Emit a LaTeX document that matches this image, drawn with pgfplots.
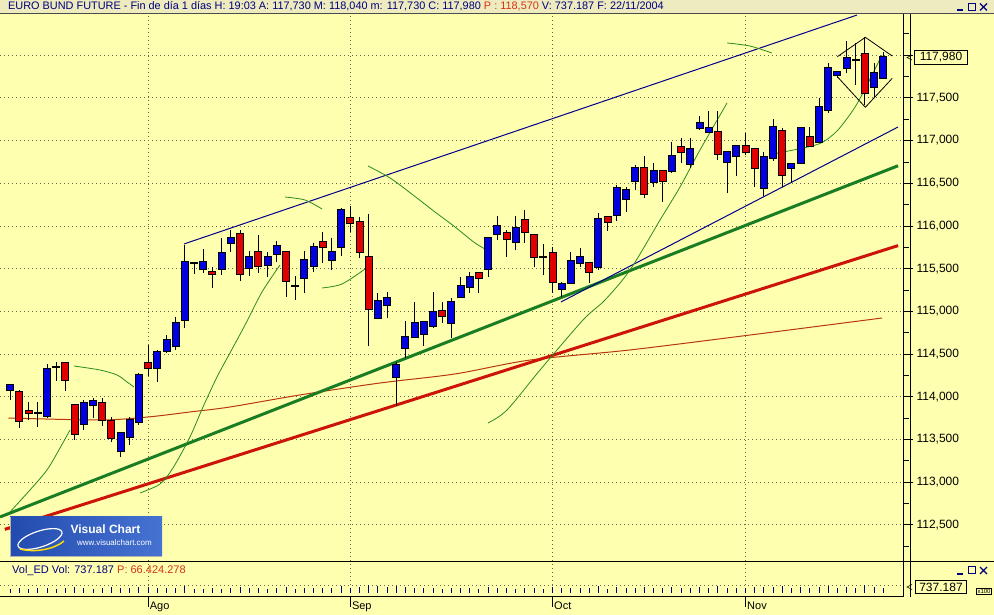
\documentclass[border=0pt]{standalone}
\usepackage{fontspec}
\setmainfont{Liberation Sans}
\usepackage{pgfplots}
\pgfplotsset{compat=1.18}
\usepackage{pgfplotstable}
\usetikzlibrary{backgrounds}
\definecolor{bg}{RGB}{255,255,176}
\definecolor{tbar}{RGB}{238,236,190}
\definecolor{navyT}{RGB}{0,0,128}
\definecolor{pred}{RGB}{215,50,20}
\definecolor{cblue}{RGB}{0,0,225}
\definecolor{cred}{RGB}{225,0,0}
\definecolor{tgreen}{RGB}{25,125,35}
\definecolor{tred}{RGB}{205,20,10}
\definecolor{mabrown}{RGB}{185,55,15}
\definecolor{magreen}{RGB}{40,140,30}
\definecolor{chan}{RGB}{0,0,140}
\definecolor{gridc}{RGB}{100,100,80}

\pgfplotstableread{
i o h l c
0 114.079 114.138 113.962 114.138
3 113.810 113.939 113.646 113.810
4 113.775 114.384 113.751 114.325
5 114.348 114.407 114.185 114.348
8 113.681 113.962 113.611 113.927
9 113.903 113.985 113.751 113.950
12 113.365 113.576 113.295 113.576
13 113.529 113.763 113.435 113.728
14 113.704 114.278 113.669 114.255
16 114.337 114.548 114.173 114.524
17 114.536 114.723 114.512 114.665
18 114.594 114.934 114.548 114.864
19 114.899 115.777 114.805 115.578
20 115.566 115.566 115.438 115.566
21 115.496 115.730 115.449 115.578
23 115.496 115.859 115.426 115.683
24 115.801 115.953 115.695 115.859
26 115.508 115.707 115.414 115.637
28 115.543 115.695 115.402 115.637
29 115.672 115.824 115.578 115.765
31 115.297 115.414 115.133 115.297
32 115.391 115.707 115.215 115.601
33 115.531 115.801 115.461 115.754
35 115.601 115.859 115.484 115.695
36 115.754 116.210 115.648 116.187
40 114.922 115.215 114.911 115.121
41 115.074 115.227 114.922 115.156
42 114.231 114.407 113.892 114.372
43 114.571 114.887 114.454 114.700
44 114.700 115.110 114.688 114.864
45 114.735 114.875 114.594 114.875
46 114.829 115.227 114.805 114.993
48 114.864 115.156 114.688 115.110
49 115.168 115.402 115.156 115.297
50 115.285 115.461 115.215 115.402
52 115.496 115.859 115.402 115.859
53 115.906 116.117 115.836 116.000
55 115.812 116.117 115.719 115.976
58 115.637 115.789 115.426 115.637
60 115.262 115.344 115.168 115.320
61 115.332 115.695 115.320 115.590
62 115.566 115.742 115.519 115.637
64 115.519 116.152 115.484 116.082
66 116.128 116.480 116.058 116.445
67 116.316 116.456 116.164 116.421
68 116.527 116.714 116.421 116.679
70 116.515 116.737 116.456 116.644
72 116.644 116.983 116.620 116.819
74 116.726 117.030 116.679 116.901
75 117.147 117.288 117.124 117.206
76 117.100 117.346 117.100 117.147
78 116.749 116.866 116.386 116.866
79 116.819 116.936 116.585 116.936
82 116.445 116.866 116.351 116.808
83 116.796 117.253 116.761 117.159
85 116.679 116.726 116.503 116.726
86 116.737 117.147 116.737 117.147
88 116.983 117.498 116.983 117.393
89 117.358 117.908 117.323 117.850
90 117.768 117.803 117.733 117.803
91 117.850 118.166 117.791 117.967
92 117.944 118.142 117.651 117.944
94 117.627 117.908 117.510 117.791
95 117.730 118.040 117.730 117.980
}\upT

\pgfplotstableread{
i o h l c
1 114.056 114.079 113.634 113.716
2 113.833 113.939 113.728 113.810
6 114.395 114.407 114.067 114.196
7 113.903 113.903 113.494 113.564
10 113.927 113.985 113.658 113.728
11 113.716 113.763 113.470 113.517
15 114.395 114.606 114.243 114.337
22 115.461 115.519 115.274 115.438
25 115.906 115.953 115.356 115.438
27 115.695 115.894 115.449 115.531
30 115.695 115.707 115.168 115.356
34 115.812 115.929 115.566 115.754
37 116.093 116.234 115.929 116.035
38 116.046 116.105 115.625 115.695
39 115.637 116.140 114.594 115.028
47 115.004 115.110 114.864 114.946
51 115.449 115.461 115.215 115.391
54 115.918 115.953 115.637 115.847
56 116.070 116.187 115.801 115.929
57 115.894 115.894 115.519 115.637
59 115.683 115.754 115.215 115.344
63 115.566 115.566 115.332 115.461
65 116.105 116.105 115.941 116.046
69 116.679 116.819 116.327 116.374
71 116.644 116.644 116.281 116.527
73 116.925 117.030 116.737 116.866
77 117.100 117.346 116.772 116.843
80 116.936 117.089 116.831 116.866
81 116.901 116.901 116.456 116.679
84 117.112 117.147 116.456 116.597
87 117.042 117.159 116.936 116.936
93 118.014 118.213 117.416 117.557
}\dnT

% daily volume, thousands of contracts
\pgfplotstableread{
i v
0 650
1 720
2 580
3 690
4 810
5 620
6 760
7 900
8 700
9 640
10 720
11 830
12 760
13 680
14 950
15 870
16 780
17 690
18 730
19 1050
20 560
21 620
22 700
23 650
24 720
25 910
26 680
27 760
28 640
29 700
30 880
31 600
32 750
33 690
34 720
35 800
36 980
37 760
38 830
39 1150
40 1020
41 940
42 1100
43 890
44 760
45 700
46 820
47 640
48 780
49 720
50 690
51 620
52 880
53 760
54 700
55 660
56 740
57 810
58 580
59 900
60 720
61 760
62 680
63 700
64 990
65 620
66 860
67 740
68 800
69 950
70 760
71 820
72 880
73 700
74 780
75 900
76 740
77 1000
78 820
79 760
80 700
81 880
82 910
83 840
84 1080
85 720
86 950
87 780
88 870
89 1120
90 690
91 940
92 800
93 1150
94 860
95 737
}\volT

\pgfplotsset{
  wickstyle/.style={draw=none, no markers, forget plot,
    error bars/.cd, y dir=plus, y explicit, error mark=none,
    error bar style={draw=black, line width=1pt}},
  outstyle/.style={draw=none, no markers, forget plot,
    error bars/.cd, y dir=plus, y explicit, error mark=none,
    error bar style={draw=black, line width=8pt}},
  fillstyle/.style={draw=none, no markers, forget plot,
    error bars/.cd, y dir=plus, y explicit, error mark=none,
    error bar style={draw=#1, line width=6pt}},
}

\begin{document}
\begin{tikzpicture}[x=1pt,y=1pt]

\begin{axis}[
  name=main, at={(0,18)}, anchor=south west,
  scale only axis, width=903pt, height=584pt,
  xmin=-1.121, xmax=97.138, ymin=111.655, ymax=118.494,
  axis line style={draw=none},
  xtick={15,37,59,80}, xticklabels={Ago,Sep,Oct,Nov},
  xtick pos=bottom,
  x tick style={black, line width=0.8pt},
  xticklabel style={font=\fontsize{11}{13}\selectfont, black, anchor=north west, inner sep=0pt, xshift=1.5pt, yshift=5pt},
  ytick={112.5,113,113.5,114,114.5,115,115.5,116,116.5,117,117.5,118,118.5},
  yticklabels={{112,500},{113,000},{113,500},{114,000},{114,500},{115,000},{115,500},{116,000},{116,500},{117,000},{117,500},{},{118,500}},
  minor ytick={112.25,112.75,113.25,113.75,114.25,114.75,115.25,115.75,116.25,116.75,117.25,117.75,118.25},
  ytick pos=right, yticklabel pos=right,
  tick align=outside, major tick length=10pt, minor tick length=6pt,
  y tick style={black, line width=0.8pt},
  xmajorgrids, ymajorgrids,
  grid style={gridc, dash pattern=on 1pt off 3pt, line width=0.8pt},
  yticklabel style={font=\fontsize{12}{14}\selectfont, black},
  clip=true,
]
\coordinate (BL) at (rel axis cs:0,0);
% volume panel
\addplot[gridc, dash pattern=on 1pt off 3pt, line width=0.8pt, forget plot] coordinates {(-1.121,111.796) (97.138,111.796)};
\addplot[draw=none, no markers, forget plot, error bars/.cd, y dir=plus, y explicit, error mark=none,
  error bar style={draw=navyT, line width=1pt}]
  table[x=i, y expr=111.702, y error plus expr=\thisrow{v}*0.00007807] {\volT};
% moving averages and trend lines (under candles)
\addplot[mabrown, line width=1pt, smooth] coordinates {(-0.2,113.751) (9.76,113.728) (14.98,113.763) (19.55,113.822) (23.9,113.880) (31.52,114.021) (40.23,114.161) (48.39,114.267) (56.55,114.430) (67.43,114.548) (80.49,114.723) (94.85,114.922)};
\addplot[tred, line width=3pt] coordinates {(-0.6,112.447) (96.6,115.770)};
\addplot[tgreen, line width=3pt] coordinates {(-1.12,112.592) (96.6,116.705)};
\addplot[chan, line width=1pt] coordinates {(18.90,115.789) (92.13,118.470)};
\addplot[chan, line width=1pt] coordinates {(59.92,115.110) (96.6,117.159)};
% short green average, drawn in pieces
\addplot[magreen, line width=0.8pt, smooth] coordinates {(-0.03,112.651) (2.14,112.908) (3.99,113.142) (5.41,113.400) (6.50,113.611)};
\addplot[magreen, line width=0.8pt, smooth] coordinates {(6.93,114.360) (9.76,114.313) (11.61,114.255) (12.70,114.173) (13.46,114.114)};
\addplot[magreen, line width=0.8pt, smooth] coordinates {(14.11,112.873) (16.29,112.978) (17.70,113.166) (19.55,113.529) (20.97,113.880) (22.49,114.231) (23.90,114.512) (25.54,114.840) (27.39,115.227) (29.35,115.543)};
\addplot[magreen, line width=0.8pt, smooth] coordinates {(29.89,116.339) (32.06,116.304) (33.92,116.199)};
\addplot[magreen, line width=0.8pt, smooth] coordinates {(33.92,115.274) (36.09,115.320) (38.60,115.496)};
\addplot[magreen, line width=0.8pt, smooth] coordinates {(38.92,116.702) (41.32,116.562) (43.82,116.363) (46.21,116.164) (48.39,115.988) (50.56,115.801) (51.87,115.719)};
\addplot[magreen, line width=0.8pt, smooth] coordinates {(51.98,113.693) (54.05,113.845) (57.64,114.313) (62.32,114.899) (64.71,115.133) (67.43,115.484) (70.70,116.070) (72.87,116.456) (75.05,116.890) (77.99,117.440)};
\addplot[magreen, line width=0.8pt, smooth] coordinates {(77.99,118.143) (80.49,118.107) (82.88,118.025)};
\addplot[magreen, line width=0.8pt, smooth] coordinates {(82.99,116.843) (86.80,116.925) (88.43,116.983) (90.06,117.124) (91.92,117.393) (93.33,117.674) (94.42,117.908) (94.85,118.002)};
% candles
\addplot[wickstyle] table[x=i, y=l, y error plus expr=\thisrow{h}-\thisrow{l}] {\upT};
\addplot[wickstyle] table[x=i, y=l, y error plus expr=\thisrow{h}-\thisrow{l}] {\dnT};
\addplot[outstyle] table[x=i, y expr={min(\thisrow{o},\thisrow{c})-0.0117}, y error plus expr={abs(\thisrow{c}-\thisrow{o})+0.0234}] {\upT};
\addplot[outstyle] table[x=i, y expr={min(\thisrow{o},\thisrow{c})-0.0117}, y error plus expr={abs(\thisrow{c}-\thisrow{o})+0.0234}] {\dnT};
\addplot[fillstyle=cblue] table[x=i, y expr={min(\thisrow{o},\thisrow{c})}, y error plus expr={abs(\thisrow{c}-\thisrow{o})}] {\upT};
\addplot[fillstyle=cred] table[x=i, y expr={min(\thisrow{o},\thisrow{c})}, y error plus expr={abs(\thisrow{c}-\thisrow{o})}] {\dnT};
% diamond pattern
\addplot[black, line width=0.8pt] coordinates {(89.99,117.982) (93.04,118.209) (95.97,117.990)};
\addplot[black, line width=0.8pt] coordinates {(89.99,117.748) (93.04,117.390) (95.97,117.729)};
\end{axis}

\coordinate (O) at ([yshift=-18pt]BL);

\begin{scope}[on background layer]
\fill[bg] (O) rectangle ([xshift=994pt,yshift=615pt]O);
\end{scope}

\begin{scope}[shift={(O)}]
% frame lines
\draw[black, line width=1pt] (0,53)--(994,53);
\draw[black, line width=1pt] (0,18)--(903,18);
\draw[black, line width=1pt] (903,18)--(903,602);
\draw[black, line width=1pt] (910,18)--(910,602);

% title bar
\fill[tbar] (0,602) rectangle (994,615);
\draw[black!70, line width=0.8pt] (0,602)--(994,602);
\node[anchor=west, inner sep=0pt, text=navyT, font=\fontsize{10.9}{12}\selectfont] at (8,608.5)
  {EURO BUND FUTURE - Fin de día 1 días H: 19:03 A: 117,730 M: 118,040 m: 117,730 C: 117,980 \textcolor{pred}{P : 118,570} V: 737.187 F: 22/11/2004};
\draw[navyT, line width=1.3pt] (957,605)--(963,605);
\draw[navyT, line width=1pt] (968,604.5) rectangle (975,611.5);
\draw[navyT, line width=1.3pt] (980,604.5)--(987,611.5) (980,611.5)--(987,604.5);

% volume panel label and buttons
\node[anchor=west, inner sep=0pt, text=navyT, font=\fontsize{11}{13}\selectfont] at (12,44)
  {Vol\_ED Vol: 737.187 \textcolor{pred}{P: 66.424.278}};
\draw[navyT, line width=1.3pt] (957,41)--(963,41);
\draw[navyT, line width=1pt] (968,41) rectangle (975,48);
\draw[navyT, line width=1.3pt] (980,41)--(987,48) (980,48)--(987,41);

% right value boxes
\node[draw=black, fill=bg, line width=0.8pt, inner xsep=5pt, inner ysep=2pt, font=\fontsize{12}{14}\selectfont] at (941,557.5) {117,980};
\draw[black, line width=0.6pt] (912,560)--(907,557.5)--(912,555);
\node[draw=black, fill=bg, line width=0.8pt, inner xsep=4pt, inner ysep=2pt, font=\fontsize{12}{14}\selectfont] at (941,28) {737.187};
\draw[black, line width=0.6pt] (912,30.5)--(907,28)--(912,25.5);
\node[draw=black, line width=0.6pt, inner sep=1pt, font=\fontsize{6}{7}\selectfont] at (984,24) {x100};

% Visual Chart logo
\shade[left color={rgb,255:red,35;green,75;blue,175}, right color={rgb,255:red,70;green,115;blue,210}] (10,59) rectangle (162,98);
\draw[gray!60, line width=0.8pt] (10,98)--(10,59)--(162,59);
\draw[white, line width=1.2pt, rotate around={18:(40,76)}] (40,76) ellipse (23 and 8);
\draw[yellow!80!orange, line width=1.5pt] (20,66) .. controls (35,62) and (55,66) .. (64,74);
\node[white, font=\bfseries\fontsize{12}{14}\selectfont, inner sep=0pt] at (105.5,86) {Visual Chart};
\node[white, font=\fontsize{8}{10}\selectfont, inner sep=0pt] at (114.5,72) {www.visualchart.com};
\end{scope}

\pgfresetboundingbox
\useasboundingbox (O) rectangle ([xshift=994pt,yshift=615pt]O);
\end{tikzpicture}
\end{document}
